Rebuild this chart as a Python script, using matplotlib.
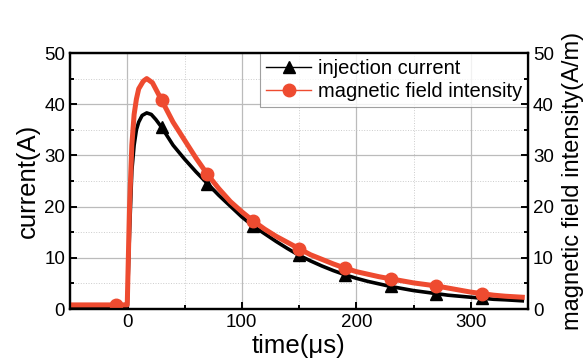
import numpy as np
import matplotlib.pyplot as plt
from matplotlib.ticker import MultipleLocator

plt.rcParams['font.family'] = ['Liberation Sans', 'DejaVu Sans']

# injection current trace (A)
t_cur = [-50, -40, -30, -20, -10, -1, 0, 2, 4, 6, 8, 10, 13, 17, 21, 25, 30, 40, 50, 60, 70,
         80, 90, 100, 110, 120, 130, 140, 150, 160, 170, 180, 190, 200, 210, 220,
         230, 240, 250, 260, 270, 280, 290, 300, 310, 320, 330, 345]
i_cur = [0.3, 0.3, 0.3, 0.3, 0.3, 0.3, 0.3, 15, 27, 32, 35, 36.5, 37.8, 38.3, 38, 37, 35.5, 32, 29.3, 26.8, 24.5,
         22.2, 20.1, 18, 16.2, 14.7, 13.2, 11.8, 10.5, 9.4, 8.4, 7.5, 6.7, 6.0, 5.4, 4.9,
         4.4, 4.0, 3.6, 3.3, 3.0, 2.7, 2.5, 2.3, 2.1, 1.9, 1.8, 1.6]

# magnetic field intensity trace (A/m)
t_mag = [-50, -40, -30, -20, -10, -1, 0, 2, 4, 6, 8, 10, 14, 17, 22, 26, 30, 40, 50, 60, 70,
         80, 90, 100, 110, 120, 130, 140, 150, 160, 170, 180, 190, 200, 210, 220,
         230, 240, 250, 260, 270, 280, 290, 300, 310, 320, 330, 345]
h_mag = [0.8, 0.8, 0.8, 0.8, 0.8, 0.8, 0.8, 20, 32, 38, 41, 43, 44.5, 45, 44.2, 42.5, 40.8, 36.5, 33, 29.5, 26.3,
         23.5, 21, 19, 17.2, 15.6, 14.2, 13, 11.8, 10.6, 9.7, 8.8, 8, 7.3, 6.8, 6.3,
         5.9, 5.5, 5.1, 4.8, 4.5, 4.1, 3.7, 3.3, 3.0, 2.7, 2.5, 2.3]

# marker positions
t_tri = [30, 70, 110, 150, 190, 230, 270, 310]
t_dot = [-10, 30, 70, 110, 150, 190, 230, 270, 310]

red = '#ee4b30'

fig = plt.figure(figsize=(5.85, 3.62), dpi=100)
ax = fig.add_axes([70/585, 53/362, 458/585, 256/362])

ax.plot(t_cur, i_cur, color='black', lw=2.6, zorder=3)
ax.plot(t_mag, h_mag, color=red, lw=3.6, zorder=4)
ax.plot(t_tri, np.interp(t_tri, t_cur, i_cur), ls='none', marker='^', ms=9,
        color='black', zorder=5)
ax.plot(t_dot, np.interp(t_dot, t_mag, h_mag), ls='none', marker='o', ms=9,
        color=red, zorder=6)

# legend proxies
ax.plot([], [], color='black', lw=1, marker='^', ms=9, label='injection current')
ax.plot([], [], color=red, lw=1, marker='o', ms=9, label='magnetic field intensity')
leg = ax.legend(loc='upper right', bbox_to_anchor=(1, 1), borderaxespad=0,
                fontsize=14.5, frameon=True, fancybox=False, handlelength=2.2,
                handletextpad=0.35, borderpad=0.3, labelspacing=0.2)
leg.get_frame().set_edgecolor('#888888')
leg.get_frame().set_linewidth(0.8)
leg.set_zorder(10)

ax.set_xlim(-50, 350)
ax.set_ylim(0, 50)
ax.xaxis.set_major_locator(MultipleLocator(100))
ax.xaxis.set_minor_locator(MultipleLocator(50))
ax.yaxis.set_major_locator(MultipleLocator(10))
ax.yaxis.set_minor_locator(MultipleLocator(5))
ax.grid(which='major', color='#bbbbbb', lw=0.9)
ax.grid(which='minor', color='#cccccc', lw=0.7, ls=':')
ax.set_axisbelow(True)

for s in ax.spines.values():
    s.set_linewidth(1.6)
ax.tick_params(which='both', direction='in', top=False, right=False, labelsize=13.5, width=1.4)
ax.tick_params(which='major', length=5)
ax.tick_params(which='minor', length=3)

ax.set_xlabel('time(μs)', fontsize=18.5, labelpad=2)
ax.set_ylabel('current(A)', fontsize=18.5, labelpad=3)

ax2 = ax.twinx()
ax2.set_ylim(0, 50)
ax2.yaxis.set_major_locator(MultipleLocator(10))
ax2.yaxis.set_minor_locator(MultipleLocator(5))
ax2.tick_params(which='both', direction='in', labelsize=13.5, width=1.4)
ax2.tick_params(which='major', length=5)
ax2.tick_params(which='minor', length=3)
ax2.set_ylabel('magnetic field intensity(A/m)', fontsize=17, labelpad=6)
for s in ax2.spines.values():
    s.set_linewidth(1.6)

fig.savefig('out.png', dpi=100)
